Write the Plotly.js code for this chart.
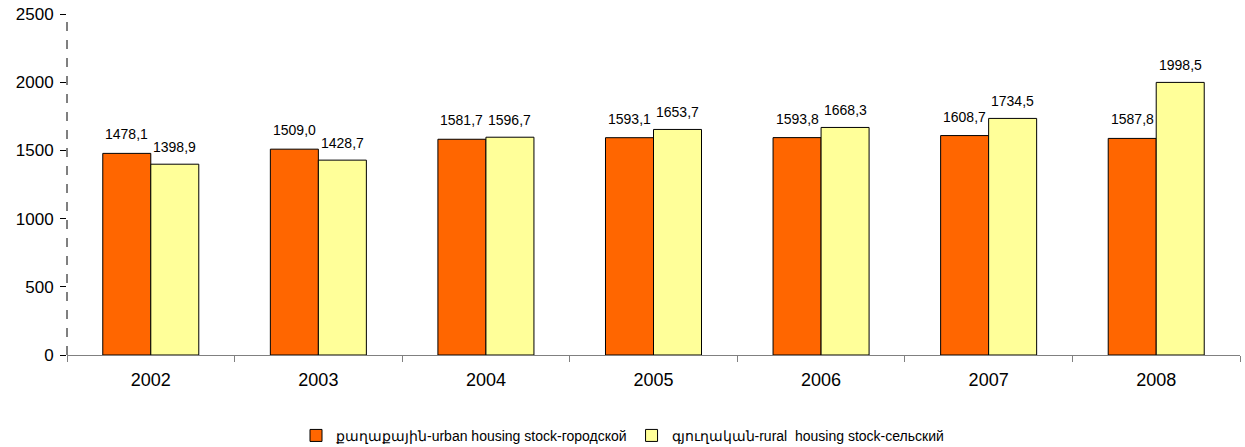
<!DOCTYPE html>
<html><head><meta charset="utf-8">
<script src="https://cdn.plot.ly/plotly-3.0.1.min.js"></script>
<style>html,body{margin:0;padding:0;background:#fff}#c{width:1245px;height:447px}</style>
</head><body><div id="c"></div>
<script>
const years = ["2002","2003","2004","2005","2006","2007","2008"];
const urban = [1478.1,1509.0,1581.7,1593.1,1593.8,1608.7,1587.8];
const rural = [1398.9,1428.7,1596.7,1653.7,1668.3,1734.5,1998.5];
const urbanName = "քաղաքային-urban housing stock-городской";
const ruralName = "գյուղական-rural  housing stock-сельский";
const fmt = v => v.toFixed(1).replace(".", ",");
const F = "Liberation Sans, Arial, sans-serif";
const traces = [
  {type:"bar", x:years, y:urban, name:urbanName,
   marker:{color:"#FF6600", line:{color:"#000",width:1}}},
  {type:"bar", x:years, y:rural, name:ruralName,
   marker:{color:"#FFFF99", line:{color:"#000",width:1}}}
];
const annotations = [];
years.forEach((yr, i) => {
  annotations.push({x:i, y:urban[i], xref:"x", yref:"y", text:fmt(urban[i]), showarrow:false,
    xanchor:"center", yanchor:"bottom", xshift:-24, yshift:9, font:{family:F,size:14,color:"#000"}});
  annotations.push({x:i, y:rural[i], xref:"x", yref:"y", text:fmt(rural[i]), showarrow:false,
    xanchor:"center", yanchor:"bottom", xshift:24, yshift:7, font:{family:F,size:14,color:"#000"}});
});
const layout = {
  width:1245, height:447,
  margin:{l:67, r:5, t:14, b:92},
  paper_bgcolor:"#fff", plot_bgcolor:"#fff",
  font:{family:F, size:16, color:"#000"},
  barmode:"group", bargap:0.427, bargroupgap:0,
  showlegend:true,
  legend:{orientation:"h", x:0.5, xref:"container", xanchor:"center", yref:"container", y:0.025, yanchor:"middle",
          font:{family:F,size:14,color:"#000"}, itemwidth:30, tracegroupgap:0},
  xaxis:{type:"category", range:[-0.5, years.length-0.5], showgrid:false, showline:true, linecolor:"#808080", linewidth:1,
         ticks:"outside", tickson:"boundaries", ticklen:6, tickcolor:"#808080", ticklabelstandoff:8,
         tickfont:{family:F,size:18}, tickangle:0, zeroline:false},
  yaxis:{range:[0,2500], dtick:500, showgrid:false, showline:false, zeroline:false,
         ticks:"outside", ticklen:6, tickcolor:"#000", ticklabelstandoff:3, tickfont:{family:F,size:17}},
  annotations:annotations,
  shapes:[{type:"line", xref:"paper", yref:"y", x0:0, x1:0, y0:0, y1:2500,
           line:{color:"#000", width:1, dash:"dash"}}]
};
Plotly.newPlot("c", traces, layout, {displayModeBar:false, staticPlot:true});
</script></body></html>
